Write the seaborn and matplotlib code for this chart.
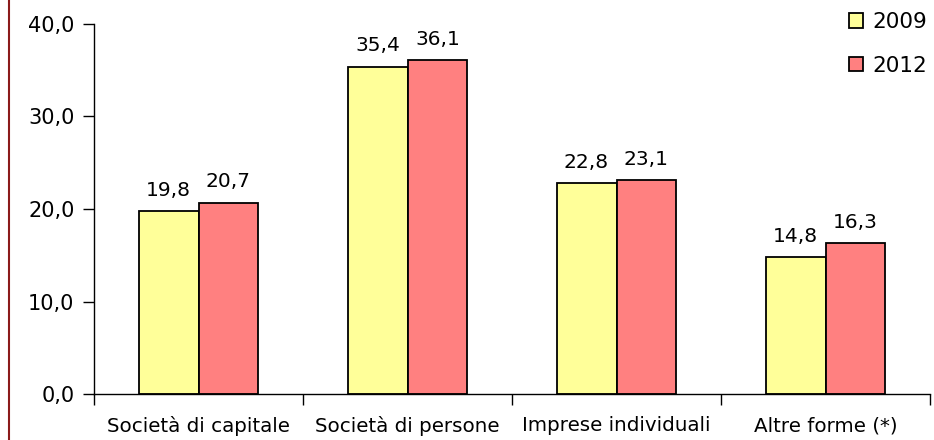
import matplotlib
matplotlib.use("Agg")
import matplotlib.pyplot as plt
from matplotlib.lines import Line2D
import pandas as pd
import seaborn as sns

# data
categories = ["Società di capitale", "Società di persone", "Imprese individuali", "Altre forme (*)"]
years = ["2009", "2012"]
values_2009 = [19.8, 35.4, 22.8, 14.8]
values_2012 = [20.7, 36.1, 23.1, 16.3]
yticks = [0, 10, 20, 30, 40]

df = pd.DataFrame({
    "categoria": categories * 2,
    "anno": [years[0]] * len(categories) + [years[1]] * len(categories),
    "valore": values_2009 + values_2012,
})

sns.set_style("white")
plt.rcParams["font.family"] = ["DejaVu Sans"]
plt.rcParams["text.color"] = "black"
plt.rcParams["xtick.color"] = "black"
plt.rcParams["ytick.color"] = "black"

fig = plt.figure(figsize=(9.34, 4.40), dpi=100)
ax = fig.add_axes([94 / 934, 46 / 440, 836 / 934, 370 / 440])

palette = {"2009": "#FFFF99", "2012": "#FF8080"}
sns.barplot(data=df, x="categoria", y="valore", hue="anno", palette=palette,
            width=0.574, edgecolor="black", linewidth=1.3, saturation=1,
            ax=ax, legend=True)

for cont in ax.containers:
    ax.bar_label(cont, labels=[f"{v:.1f}".replace(".", ",") for v in cont.datavalues],
                 padding=8, fontsize=14.5, color="black")

ax.set_ylim(0, 40)
ax.set_xlim(-0.5, len(categories) - 0.5)
ax.set_yticks(yticks)
ax.set_yticklabels([f"{t:.1f}".replace(".", ",") for t in yticks], fontsize=15)
ax.tick_params(axis="y", direction="out", length=8, width=1, color="black", left=True, pad=6)
ax.tick_params(axis="x", which="major", length=0, labelsize=14.3, pad=16)
ax.set_xticks([i + 0.5 for i in range(-1, len(categories))], minor=True)
ax.tick_params(axis="x", which="minor", direction="out", length=8, width=1, color="black", bottom=True)
ax.set_xlabel("")
ax.set_ylabel("")

for side in ["top", "right"]:
    ax.spines[side].set_visible(False)
for side in ["left", "bottom"]:
    ax.spines[side].set_color("black")
    ax.spines[side].set_linewidth(1)

leg = ax.legend(loc="upper right", bbox_to_anchor=(1.02, 1.085), frameon=False,
                fontsize=15.5, handlelength=0.65, handleheight=0.65,
                handletextpad=0.45, labelspacing=1.1)

# dark red border line on the left side of the image
fig.add_artist(Line2D([9 / 934, 9 / 934], [0, 1], color="#8B1A1A", linewidth=1.5))

fig.savefig("out.png", dpi=100)
